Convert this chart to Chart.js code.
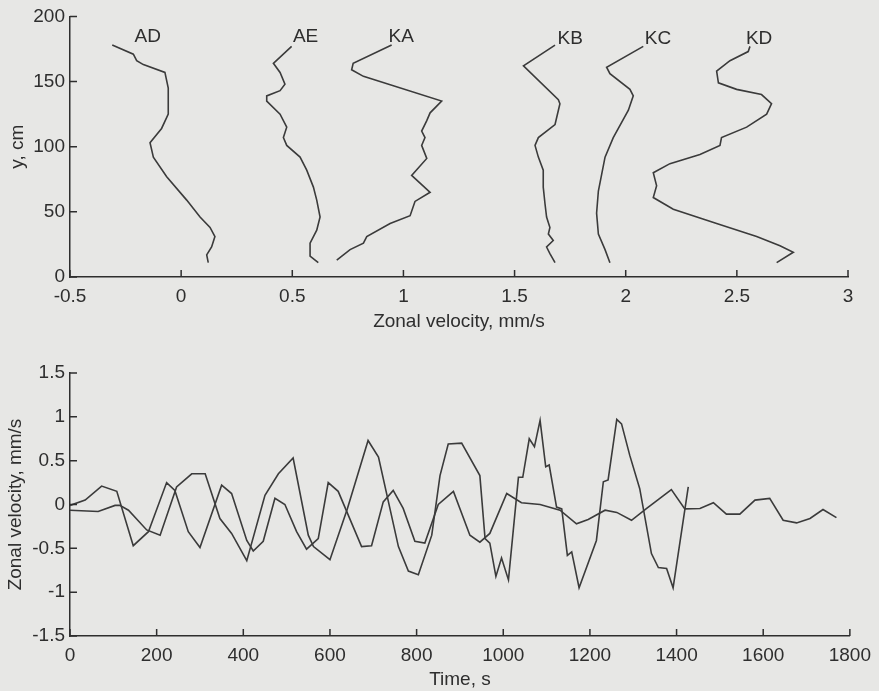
<!DOCTYPE html>
<html>
<head>
<meta charset="utf-8">
<script src="https://cdn.jsdelivr.net/npm/chart.js@4.4.1/dist/chart.umd.min.js"></script>
<style>
  html, body { margin: 0; padding: 0; background: #e7e7e5; }
  #wrap { position: relative; width: 879px; height: 691px; }
  canvas { position: absolute; left: 0; }
</style>
</head>
<body>
<div id="wrap">
  <canvas id="profiles" width="879" height="340" style="top:0"></canvas>
  <canvas id="series" width="879" height="351" style="top:340px"></canvas>
</div>
<script>
// profiles: depth y (cm) and zonal velocity (mm/s), read top to bottom
let profileNames = ['AD', 'AE', 'KA', 'KB', 'KC', 'KD']
let labelX = [-0.15, 0.56, 0.99, 1.75, 2.145, 2.60]
let labelY = [184, 184, 184, 183, 183, 183]

let depthAD = [178, 171, 166, 163, 157, 145, 125, 114, 103, 92, 77, 59, 46, 38, 31, 23, 17, 11]
let velAD = [-0.31, -0.215, -0.2, -0.17, -0.073, -0.058, -0.058, -0.088, -0.14, -0.125, -0.065, 0.025, 0.085, 0.13, 0.152, 0.137, 0.115, 0.122]

let depthAE = [177, 164, 157, 148, 143, 139, 135, 125, 115, 107, 101, 92, 82, 69, 59, 46, 36, 26, 16, 11]
let velAE = [0.497, 0.415, 0.445, 0.467, 0.445, 0.385, 0.385, 0.445, 0.475, 0.46, 0.475, 0.535, 0.565, 0.595, 0.61, 0.625, 0.61, 0.58, 0.58, 0.617]

let depthKA = [178, 164, 159, 154, 135, 126, 120, 112, 107, 101, 91, 78, 65, 58, 47, 41, 31, 26, 21, 13]
let velKA = [0.947, 0.774, 0.767, 0.82, 1.172, 1.12, 1.105, 1.082, 1.097, 1.082, 1.105, 1.037, 1.12, 1.052, 1.03, 0.94, 0.835, 0.82, 0.76, 0.70]

let depthKB = [178, 162, 136, 133, 117, 107, 101, 92, 82, 69, 56, 46, 38, 33, 28, 23, 18, 11]
let velKB = [1.682, 1.54, 1.697, 1.704, 1.682, 1.607, 1.592, 1.607, 1.629, 1.629, 1.637, 1.644, 1.659, 1.652, 1.674, 1.644, 1.659, 1.682]

let depthKC = [177, 161, 156, 144, 139, 128, 107, 92, 79, 66, 49, 33, 21, 11]
let velKC = [2.079, 1.914, 1.929, 2.019, 2.034, 2.012, 1.944, 1.907, 1.892, 1.877, 1.869, 1.877, 1.907, 1.929]

let depthKD = [177, 173, 166, 158, 149, 144, 140, 133, 125, 115, 107, 101, 94, 87, 80, 70, 61, 52, 41, 31, 24, 19, 11]
let velKD = [2.559, 2.551, 2.469, 2.409, 2.417, 2.499, 2.611, 2.656, 2.634, 2.544, 2.431, 2.424, 2.334, 2.199, 2.124, 2.139, 2.124, 2.214, 2.409, 2.589, 2.694, 2.754, 2.679]

// time series: time (s) and zonal velocity (mm/s)
let timeA = [0, 65, 104, 115, 135, 177, 208, 246, 281, 312, 346, 373, 408, 450, 481, 515, 550, 562, 600, 640, 688, 712, 758, 781, 804, 835, 854, 873, 904, 946, 958, 969, 983, 996, 1012, 1035, 1045, 1060, 1072, 1085, 1098, 1106, 1123, 1135, 1148, 1158, 1175, 1215, 1231, 1242, 1262, 1273, 1292, 1315, 1342, 1358, 1377, 1392, 1427]
let velA = [-0.065, -0.08, -0.01, -0.01, -0.065, -0.29, -0.35, 0.2, 0.35, 0.35, -0.16, -0.33, -0.64, 0.105, 0.35, 0.53, -0.35, -0.48, -0.63, -0.05, 0.73, 0.54, -0.48, -0.76, -0.8, -0.35, 0.33, 0.69, 0.7, 0.33, -0.39, -0.44, -0.82, -0.61, -0.86, 0.31, 0.31, 0.75, 0.66, 0.96, 0.43, 0.45, -0.03, -0.05, -0.58, -0.54, -0.95, -0.41, 0.26, 0.28, 0.97, 0.92, 0.56, 0.18, -0.56, -0.72, -0.73, -0.95, 0.2]

let timeB = [0, 35, 73, 108, 146, 181, 223, 242, 273, 300, 350, 373, 408, 423, 446, 473, 496, 523, 546, 573, 596, 619, 673, 696, 723, 746, 769, 796, 819, 850, 885, 923, 946, 969, 1008, 1042, 1085, 1131, 1169, 1196, 1235, 1262, 1296, 1331, 1388, 1419, 1454, 1485, 1515, 1546, 1581, 1615, 1646, 1677, 1708, 1738, 1769]
let velB = [-0.01, 0.05, 0.21, 0.15, -0.47, -0.31, 0.25, 0.16, -0.31, -0.49, 0.22, 0.125, -0.41, -0.53, -0.42, 0.07, 0.0, -0.31, -0.51, -0.39, 0.25, 0.15, -0.48, -0.47, 0.03, 0.16, -0.045, -0.42, -0.44, 0.0, 0.15, -0.35, -0.43, -0.33, 0.125, 0.02, 0.0, -0.065, -0.22, -0.17, -0.065, -0.09, -0.18, -0.045, 0.17, -0.05, -0.045, 0.02, -0.11, -0.11, 0.05, 0.07, -0.18, -0.21, -0.16, -0.057, -0.15]

let ink = '#2e2e2e'
let lineInk = '#3b3b3b'
let fontFamily = "'Liberation Sans', Arial, sans-serif"

let toPoints = function(xs, ys) {
    return xs.map((v, i) => ({x: v, y: ys[i]}))
}

let lineSet = function(points) {
    return {
        data: points,
        showLine: true,
        borderColor: lineInk,
        borderWidth: 1.6,
        pointRadius: 0,
        tension: 0,
        fill: false
    }
}

// ticks pointing into the plot
let inTicks = {
    id: 'inTicks',
    afterDraw(chart) {
        let ctx = chart.ctx
        let xs = chart.scales.x
        let ys = chart.scales.y
        ctx.save()
        ctx.strokeStyle = ink
        ctx.lineWidth = 1.5
        ctx.beginPath()
        xs.ticks.forEach(t => {
            let px = xs.getPixelForValue(t.value)
            ctx.moveTo(px, xs.top)
            ctx.lineTo(px, xs.top - 7)
        })
        ys.ticks.forEach(t => {
            let py = ys.getPixelForValue(t.value)
            ctx.moveTo(ys.right, py)
            ctx.lineTo(ys.right + 7, py)
        })
        ctx.stroke()
        ctx.restore()
    }
}

let nameLabels = {
    id: 'nameLabels',
    afterDatasetsDraw(chart) {
        let ctx = chart.ctx
        ctx.save()
        ctx.fillStyle = ink
        ctx.font = '19px ' + fontFamily
        ctx.textAlign = 'center'
        ctx.textBaseline = 'middle'
        profileNames.forEach((name, i) => {
            ctx.fillText(name, chart.scales.x.getPixelForValue(labelX[i]), chart.scales.y.getPixelForValue(labelY[i]))
        })
        ctx.restore()
    }
}

let axisOpts = function(min, max, step, title, fitSize, titlePad, horizontal) {
    return {
        type: 'linear',
        min: min,
        max: max,
        grid: { display: false, drawTicks: false },
        border: { display: true, color: ink, width: 1.5 },
        ticks: {
            stepSize: step,
            color: ink,
            padding: horizontal ? 8 : 5,
            font: { family: fontFamily, size: 19 },
            callback: v => String(v)
        },
        title: {
            display: true,
            text: title,
            color: ink,
            font: { family: fontFamily, size: 19 },
            padding: titlePad
        },
        afterFit: s => {
            if (horizontal) s.height = fitSize
            else s.width = fitSize
        }
    }
}

Chart.defaults.devicePixelRatio = 1

let profileSets = [
    lineSet(toPoints(velAD, depthAD)),
    lineSet(toPoints(velAE, depthAE)),
    lineSet(toPoints(velKA, depthKA)),
    lineSet(toPoints(velKB, depthKB)),
    lineSet(toPoints(velKC, depthKC)),
    lineSet(toPoints(velKD, depthKD))
]

new Chart(document.getElementById('profiles'), {
    type: 'scatter',
    data: { datasets: profileSets },
    options: {
        responsive: false,
        animation: false,
        layout: { padding: { left: 0, right: 31, top: 15, bottom: 0 } },
        plugins: { legend: { display: false }, tooltip: { enabled: false } },
        scales: {
            x: axisOpts(-0.5, 3, 0.5, 'Zonal velocity, mm/s', 63, { top: 4, bottom: 7 }, true),
            y: axisOpts(0, 200, 50, 'y, cm', 70, { top: 6, bottom: 4 }, false)
        }
    },
    plugins: [inTicks, nameLabels]
})

new Chart(document.getElementById('series'), {
    type: 'scatter',
    data: { datasets: [lineSet(toPoints(timeA, velA)), lineSet(toPoints(timeB, velB))] },
    options: {
        responsive: false,
        animation: false,
        layout: { padding: { left: 0, right: 29, top: 33, bottom: 0 } },
        plugins: { legend: { display: false }, tooltip: { enabled: false } },
        scales: {
            x: axisOpts(0, 1800, 200, 'Time, s', 55, { top: 4, bottom: 0 }, true),
            y: axisOpts(-1.5, 1.5, 0.5, 'Zonal velocity, mm/s', 70, { top: 4, bottom: 4 }, false)
        }
    },
    plugins: [inTicks]
})
</script>
</body>
</html>
